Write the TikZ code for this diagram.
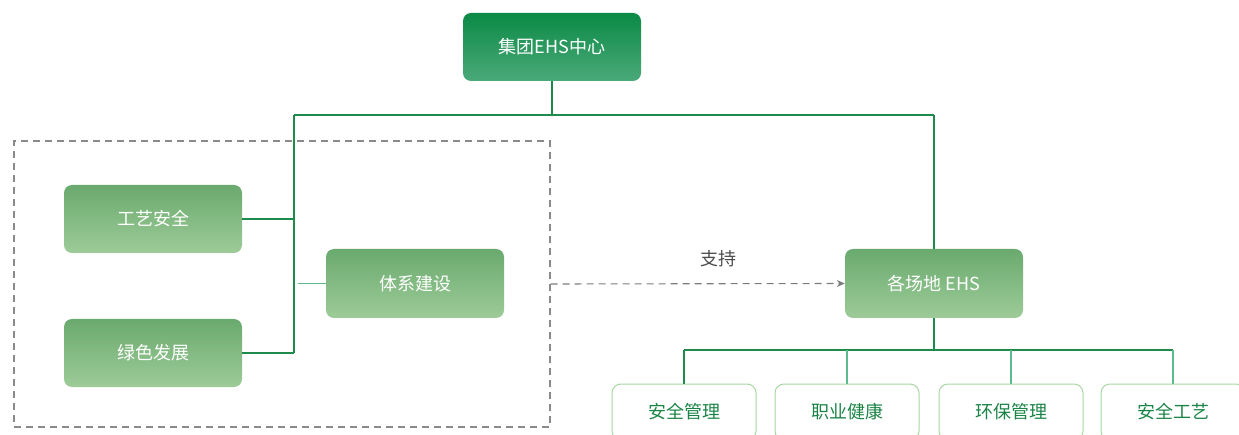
\documentclass[tikz,border=0pt]{standalone}
\usepackage{fontspec}
\setmainfont{Noto Sans CJK SC}
\usetikzlibrary{arrows.meta}
\definecolor{dkgreen}{HTML}{0B8A45}
\definecolor{dkgreenb}{HTML}{4BA97A}
\definecolor{mdgreen}{HTML}{6AAA6E}
\definecolor{ltgreen}{HTML}{9DCB98}
\definecolor{lineg}{HTML}{1E8A4C}
\definecolor{lineg2}{HTML}{5DBB8E}
\definecolor{boxedge}{HTML}{A9D6A4}
\definecolor{txtgreen}{HTML}{1A8447}
\definecolor{dashgray}{HTML}{8A8A8A}
\tikzset{
  topbox/.style={rounded corners=8pt, top color=dkgreen, bottom color=dkgreenb, draw=none,
    minimum width=178pt, minimum height=68pt, text=white, font=\fontsize{18pt}{20pt}\selectfont},
  midbox/.style={rounded corners=8pt, top color=mdgreen, bottom color=ltgreen, draw=none,
    minimum width=178pt, minimum height=68pt, text=white, font=\fontsize{18pt}{20pt}\selectfont},
  leafbox/.style={rounded corners=9pt, draw=boxedge, line width=1pt, fill=white,
    minimum width=144pt, minimum height=56pt, text=txtgreen, font=\fontsize{18pt}{20pt}\selectfont},
  conn/.style={draw=lineg, line width=1.2pt},
  conn2/.style={draw=lineg2, line width=1.2pt},
  grpbox/.style={draw=dashgray, line width=1.2pt, dash pattern=on 7pt off 5pt,
    minimum width=536pt, minimum height=286pt},
  dasharrow/.style={draw=dashgray!90!black, line width=1.1pt, dash pattern=on 7pt off 5pt,
    -{Stealth[length=8pt,width=7pt]}},
  lbl/.style={text=black!70, font=\fontsize{18pt}{20pt}\selectfont}
}
\begin{document}
\begin{tikzpicture}[x=1pt,y=-1pt]
\useasboundingbox (0,0) rectangle (1239,435);
% group box
\node[grpbox] (grp) at (282,284) {};
% nodes
\node[topbox] (top) at (552,47) {集团EHS中心};
\node[midbox] (gy) at (153,219) {工艺安全};
\node[midbox] (ls) at (153,353) {绿色发展};
\node[midbox, minimum height=69pt] (tx) at (415,283.5) {体系建设};
\node[midbox, minimum height=69pt] (site) at (934,283.5) {各场地 EHS};
\node[leafbox] (b1) at (684,412) {安全管理};
\node[leafbox] (b2) at (847,412) {职业健康};
\node[leafbox] (b3) at (1011,412) {环保管理};
\node[leafbox] (b4) at (1173,412) {安全工艺};
\node[lbl] (sup) at (718,259) {支持};
% coordinates
\coordinate (j1) at (294,115);
\coordinate (j2) at (934,115);
\coordinate (j3) at (294,353);
\coordinate (jt) at (298,283.5);
\coordinate (h) at (934,350);
% connectors
\draw[conn] (top.south) -- (top.south |- j1);
\draw[conn] (j1) -- (j2);
\draw[conn] (j2) -- (site.north);
\draw[conn] (j1) -- (j3);
\draw[conn] (gy.east) -- (gy.east -| j1);
\draw[conn] (ls.east) -- (j3);
\draw[conn2] (tx.west) -- (jt);
\draw[conn] (site.south) -- (h);
\draw[conn] (b1.north |- h) -- (b4.north |- h);
\draw[conn] (b1.north |- h) -- (b1.north);
\draw[conn2] (b2.north |- h) -- (b2.north);
\draw[conn2] (b3.north |- h) -- (b3.north);
\draw[conn2] (b4.north |- h) -- (b4.north);
\draw[dasharrow] (grp.east) -- (site.west);
\end{tikzpicture}
\end{document}
